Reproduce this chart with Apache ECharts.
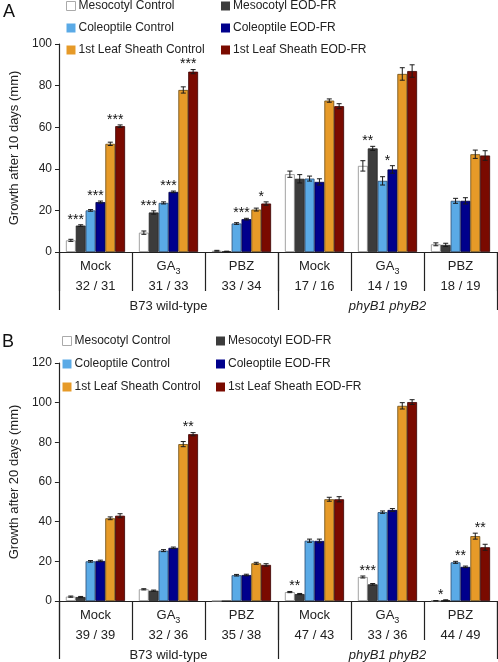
<!DOCTYPE html>
<html><head><meta charset="utf-8">
<script src="https://cdn.jsdelivr.net/npm/echarts@6/dist/echarts.min.js"></script>
<style>html,body{margin:0;padding:0;background:#fff}#c{width:498px;height:662px}</style>
</head><body><div id="c"></div>
<script>
// ---------- DATA ----------
const treatments = ['Mock', 'GA3', 'PBZ', 'Mock', 'GA3', 'PBZ'];
const genotypes = ['B73 wild-type', 'phyB1 phyB2'];
const countsA = ['32 / 31', '31 / 33', '33 / 34', '17 / 16', '14 / 19', '18 / 19'];
const countsB = ['39 / 39', '32 / 36', '35 / 38', '47 / 43', '33 / 36', '44 / 49'];
const seriesNames = ['Mesocotyl Control', 'Mesocotyl EOD-FR', 'Coleoptile Control', 'Coleoptile EOD-FR', '1st Leaf Sheath Control', '1st Leaf Sheath EOD-FR'];

// Panel A: growth after 10 days (mm)
const A_mesoCtrl = [5.6, 9.3, 0.6, 37.4, 41.4, 3.7];
const A_mesoEOD  = [12.7, 19.0, 0.3, 35.2, 49.8, 3.4];
const A_coleCtrl = [20.0, 23.6, 13.7, 35.3, 34.2, 24.6];
const A_coleEOD  = [24.0, 28.9, 15.8, 33.7, 39.7, 24.6];
const A_leafCtrl = [52.0, 77.9, 20.4, 72.8, 85.6, 47.0];
const A_leafEOD  = [60.5, 86.7, 23.3, 70.1, 87.0, 46.4];
const A_err_mesoCtrl = [0.5, 0.8, 0.2, 1.5, 2.5, 0.7];
const A_err_mesoEOD  = [0.4, 0.8, 0.1, 2.0, 1.0, 0.8];
const A_err_coleCtrl = [0.4, 0.5, 0.4, 1.2, 2.0, 1.2];
const A_err_coleEOD  = [0.5, 0.4, 0.4, 1.5, 1.8, 1.5];
const A_err_leafCtrl = [0.8, 1.5, 0.7, 0.8, 3.0, 2.0];
const A_err_leafEOD  = [0.6, 1.0, 0.8, 1.2, 3.0, 2.3];
const A_sigMeso = ['***', '***', '', '', '**', ''];
const A_sigCole = ['***', '***', '***', '', '*', ''];
const A_sigLeaf = ['***', '***', '*', '', '', ''];

// Panel B: growth after 20 days (mm)
const B_mesoCtrl = [2.2, 5.9, 0, 4.5, 12.1, 0.1];
const B_mesoEOD  = [2.0, 5.2, 0, 3.5, 8.4, 0.4];
const B_coleCtrl = [20.0, 25.4, 13.0, 30.4, 44.8, 19.5];
const B_coleEOD  = [20.2, 26.8, 13.1, 30.3, 45.9, 17.2];
const B_leafCtrl = [41.7, 79.1, 19.0, 51.3, 98.4, 32.7];
const B_leafEOD  = [43.0, 84.1, 18.2, 51.3, 100.3, 27.1];
const B_err_mesoCtrl = [0.3, 0.3, 0, 0.3, 0.5, 0.1];
const B_err_mesoEOD  = [0.3, 0.3, 0, 0.3, 0.4, 0.2];
const B_err_coleCtrl = [0.4, 0.5, 0.4, 0.8, 0.6, 0.5];
const B_err_coleEOD  = [0.4, 0.4, 0.4, 0.9, 0.7, 0.4];
const B_err_leafCtrl = [0.7, 1.3, 0.5, 1.0, 1.6, 1.5];
const B_err_leafEOD  = [1.0, 0.8, 0.6, 1.3, 1.2, 1.5];
const B_sigMeso = ['', '', '', '**', '***', '*'];
const B_sigCole = ['', '', '', '', '', '**'];
const B_sigLeaf = ['', '**', '', '', '', '**'];

// ---------- STYLE ----------
const FONT = 'Liberation Sans, Arial, sans-serif';
const colors = ['#ffffff', '#3c3c3c', '#5aaae6', '#00008c', '#e69a28', '#7a0a00'];
const borders = ['#8a8a8a', '#222', '#2a4a70', '#000040', '#6a4a10', '#3a0000'];
const GAP = 0.19;

const chart = echarts.init(document.getElementById('c'), null, {renderer: 'canvas'});

function catAxis(gi, counts) {
  return {
    type: 'category', gridIndex: gi, data: treatments, position: 'bottom',
    axisLine: {show: true, lineStyle: {color: '#222', width: 1}},
    axisTick: {show: true, length: 39, lineStyle: {color: '#222', width: 1.2}},
    axisLabel: {
      margin: 4, color: '#222', fontFamily: FONT,
      formatter: (v, i) => (v === 'GA3' ? '{t|GA}{s|3}' : '{t|' + v + '}') + '\n{n|' + counts[i] + '}',
      rich: {
        t: {fontSize: 13, lineHeight: 20, fontFamily: FONT, color: '#222'},
        s: {fontSize: 9, lineHeight: 11, verticalAlign: 'bottom', fontFamily: FONT, color: '#222'},
        n: {fontSize: 13, lineHeight: 20, fontFamily: FONT, color: '#222'}
      }
    },
    splitLine: {show: false}
  };
}
function groupAxis(gi) {
  return {
    type: 'category', gridIndex: gi, data: genotypes, position: 'bottom',
    axisLine: {show: false},
    axisTick: {show: true, length: 58, lineStyle: {color: '#222', width: 1.2}},
    axisLabel: {
      margin: 48, color: '#222', fontFamily: FONT, fontSize: 13,
      formatter: (v, i) => i === 1 ? '{i|' + v + '}' : v,
      rich: {i: {fontStyle: 'italic', fontSize: 13, fontFamily: FONT, color: '#222'}}
    }
  };
}
function valAxis(gi, max, name, gap) {
  return {
    type: 'value', gridIndex: gi, min: 0, max: max, interval: 20,
    name: name, nameLocation: 'middle', nameGap: gap,
    nameTextStyle: {fontSize: 13, fontFamily: FONT, color: '#222'},
    axisLine: {show: true, lineStyle: {color: '#222', width: 1.2}},
    axisTick: {show: true, length: 4, lineStyle: {color: '#222'}},
    axisLabel: {fontSize: 12, fontFamily: FONT, color: '#222', margin: 7},
    splitLine: {show: false}
  };
}

const series = [];
function addPanel(gi, xi, yi, vals, errs, sigs) {
  vals.forEach((v, k) => {
    series.push({
      type: 'bar', name: seriesNames[k], xAxisIndex: xi, yAxisIndex: yi, data: v,
      barGap: '0%', barCategoryGap: (GAP * 100) + '%',
      itemStyle: {color: colors[k], borderColor: borders[k], borderWidth: 0.8},
      emphasis: {disabled: true}, animation: false
    });
  });
  const errData = [];
  vals.forEach((v, k) => v.forEach((val, i) => errData.push([i, val, errs[k][i], k])));
  series.push({
    type: 'custom', xAxisIndex: xi, yAxisIndex: yi, data: errData, encode: {x: 0, y: 1},
    silent: true, animation: false, z: 5,
    renderItem: (p, api) => {
      const cat = api.value(0), val = api.value(1), err = api.value(2), k = api.value(3);
      if (!err) return null;
      const c = api.coord([cat, val]);
      const band = api.size([1, 0])[0];
      const bw = band * (1 - GAP) / 6;
      const x = c[0] + (k - 2.5) * bw;
      const yh = api.coord([cat, val + err])[1];
      const yl = api.coord([cat, Math.max(0, val - err)])[1];
      const st = {stroke: '#1a1a1a', lineWidth: 1};
      return {type: 'group', children: [
        {type: 'line', shape: {x1: x, y1: yh, x2: x, y2: yl}, style: st},
        {type: 'line', shape: {x1: x - 2.5, y1: yh, x2: x + 2.5, y2: yh}, style: st},
        {type: 'line', shape: {x1: x - 2.5, y1: yl, x2: x + 2.5, y2: yl}, style: st}
      ]};
    }
  });
  const sigData = [], sigText = [];
  sigs.forEach((arr, pair) => arr.forEach((s, i) => {
    if (!s) return;
    const a = vals[pair * 2][i] + errs[pair * 2][i];
    const b = vals[pair * 2 + 1][i] + errs[pair * 2 + 1][i];
    sigData.push([i, Math.max(a, b), pair]);
    sigText.push(s);
  }));
  series.push({
    type: 'custom', xAxisIndex: xi, yAxisIndex: yi, data: sigData, encode: {x: 0, y: 1},
    silent: true, animation: false, z: 6,
    renderItem: (p, api) => {
      const cat = api.value(0), top = api.value(1), pair = api.value(2);
      const c = api.coord([cat, top]);
      const band = api.size([1, 0])[0];
      const bw = band * (1 - GAP) / 6;
      const x = c[0] + (pair * 2 + 1 - 3) * bw;
      return {type: 'text', x: x, y: c[1] + 2,
        style: {text: sigText[p.dataIndex], align: 'center', verticalAlign: 'bottom',
          textAlign: 'center', textVerticalAlign: 'bottom',
          fontSize: 14, fontFamily: FONT, fill: '#111'}};
    }
  });
}

addPanel(0, 0, 0,
  [A_mesoCtrl, A_mesoEOD, A_coleCtrl, A_coleEOD, A_leafCtrl, A_leafEOD],
  [A_err_mesoCtrl, A_err_mesoEOD, A_err_coleCtrl, A_err_coleEOD, A_err_leafCtrl, A_err_leafEOD],
  [A_sigMeso, A_sigCole, A_sigLeaf]);
addPanel(1, 2, 1,
  [B_mesoCtrl, B_mesoEOD, B_coleCtrl, B_coleEOD, B_leafCtrl, B_leafEOD],
  [B_err_mesoCtrl, B_err_mesoEOD, B_err_coleCtrl, B_err_coleEOD, B_err_leafCtrl, B_err_leafEOD],
  [B_sigMeso, B_sigCole, B_sigLeaf]);

function legendItems(idx) {
  return idx.map(k => ({
    name: seriesNames[k],
    itemStyle: k === 0 ? {color: '#fff', borderColor: '#aaa', borderWidth: 1} : {color: colors[k], borderWidth: 0}
  }));
}
function legend(left, top, idx, gap) {
  return {
    orient: 'vertical', left: left, top: top, padding: 0, itemGap: gap,
    itemWidth: 9, itemHeight: 9, icon: 'rect', selectedMode: false,
    data: legendItems(idx),
    textStyle: {fontSize: 12, fontFamily: FONT, color: '#222', padding: [0, 0, 0, -2]}
  };
}

chart.setOption({
  animation: false,
  backgroundColor: '#fff',
  textStyle: {fontFamily: FONT},
  grid: [
    {left: 50, top: 44, width: 447, height: 208},
    {left: 50, top: 363, width: 447, height: 238}
  ],
  xAxis: [catAxis(0, countsA), groupAxis(0), catAxis(1, countsB), groupAxis(1)],
  yAxis: [valAxis(0, 100, 'Growth after 10 days (mm)', 38), valAxis(1, 120, 'Growth after 20 days (mm)', 22)],
  legend: [
    legend(66, 0, [0, 2, 4], 10),
    legend(221, 0, [1, 3, 5], 10),
    legend(62, 335, [0, 2, 4], 11),
    legend(216, 335, [1, 3, 5], 11)
  ],
  graphic: [
    {type: 'text', left: 3, top: 3, style: {text: 'A', fontSize: 18, fontFamily: FONT, fill: '#111'}},
    {type: 'text', left: 2, top: 333, style: {text: 'B', fontSize: 18, fontFamily: FONT, fill: '#111'}}
  ],
  series: series
});
</script></body></html>
